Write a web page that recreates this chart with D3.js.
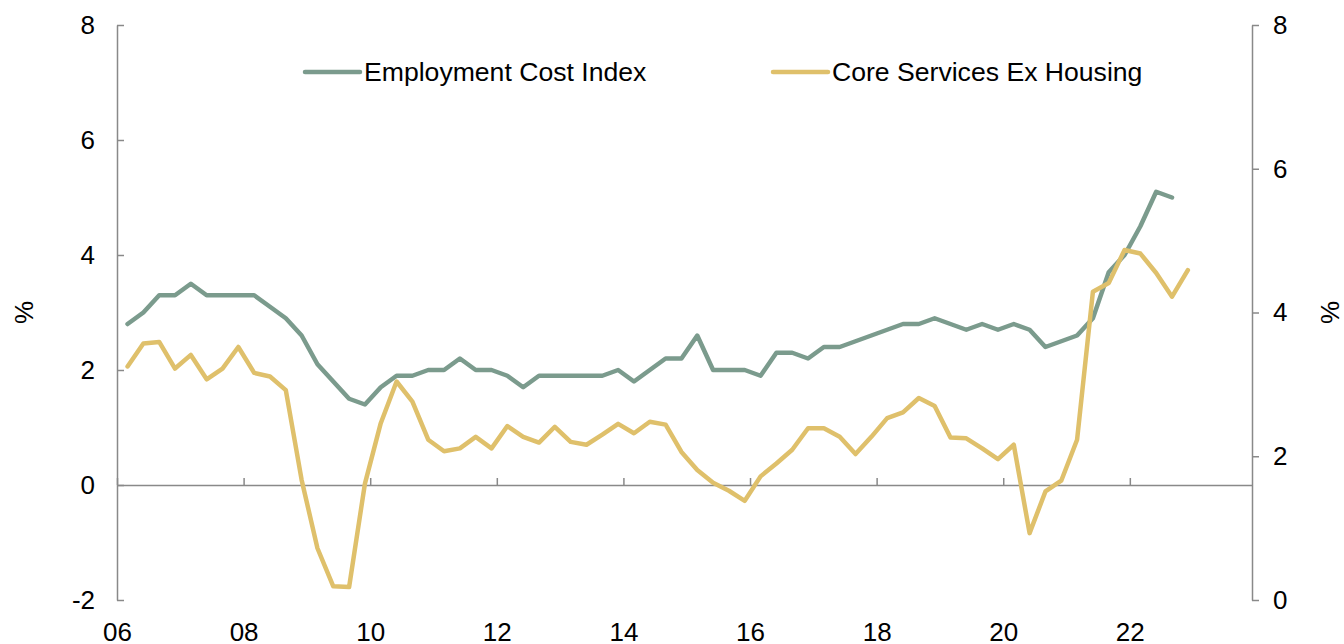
<!DOCTYPE html>
<html>
<head>
<meta charset="utf-8">
<script src="https://cdn.jsdelivr.net/npm/d3@7"></script>
<style>
  body { margin: 0; background: #fff; }
  svg { display: block; font-family: "Liberation Sans", Arial, sans-serif; }
  .axis path, .axis line { stroke: #898989; stroke-width: 1.5; }
  .axis text { fill: #000; font-size: 26px; font-family: "Liberation Sans", Arial, sans-serif; }
</style>
</head>
<body>
<div id="chart"></div>
<script>
// Quarterly data, 2006Q1 onwards (year-over-year %)
const seriesNames = ["Employment Cost Index", "Core Services Ex Housing"];
const startYear = 2006;

// Employment Cost Index, left axis (2006Q1 - 2022Q3)
const eci = [2.8, 3.0, 3.3, 3.3, 3.5, 3.3, 3.3, 3.3, 3.3, 3.1, 2.9, 2.6,
    2.1, 1.8, 1.5, 1.4, 1.7, 1.9, 1.9, 2.0, 2.0, 2.2, 2.0, 2.0,
    1.9, 1.7, 1.9, 1.9, 1.9, 1.9, 1.9, 2.0, 1.8, 2.0, 2.2, 2.2,
    2.6, 2.0, 2.0, 2.0, 1.9, 2.3, 2.3, 2.2, 2.4, 2.4, 2.5, 2.6,
    2.7, 2.8, 2.8, 2.9, 2.8, 2.7, 2.8, 2.7, 2.8, 2.7, 2.4, 2.5,
    2.6, 2.9, 3.7, 4.0, 4.5, 5.1, 5.0];

// Core services ex housing, right axis (2006Q1 - 2022Q4)
const coreSvc = [3.25, 3.57, 3.59, 3.22, 3.41, 3.07, 3.22, 3.52, 3.16, 3.11, 2.92, 1.67,
    0.72, 0.19, 0.18, 1.62, 2.46, 3.04, 2.76, 2.23, 2.07, 2.11, 2.27, 2.11,
    2.42, 2.27, 2.19, 2.41, 2.20, 2.16, 2.30, 2.45, 2.32, 2.48, 2.44, 2.06,
    1.81, 1.63, 1.52, 1.38, 1.72, 1.90, 2.09, 2.39, 2.39, 2.27, 2.03, 2.27,
    2.53, 2.61, 2.81, 2.70, 2.26, 2.25, 2.11, 1.96, 2.16, 0.93, 1.51, 1.66,
    2.23, 4.29, 4.41, 4.87, 4.82, 4.55, 4.22, 4.59];

const xTicks = [2006, 2008, 2010, 2012, 2014, 2016, 2018, 2020, 2022];
const leftTicks = [-2, 0, 2, 4, 6, 8];
const rightTicks = [0, 2, 4, 6, 8];

const colors = ["#7b9b8d", "#dfc06b"];

const width = 1344, height = 644;
const plot = {left: 117, right: 1252, top: 25, bottom: 600};

const svg = d3.select("#chart").append("svg")
    .attr("width", width)
    .attr("height", height);

// quarter i plotted at the last month of the quarter
const qDate = i => startYear + 2 / 12 + i / 4;

const x = d3.scaleLinear()
    .domain([2006, 2023.93])
    .range([plot.left, plot.right]);

const yL = d3.scaleLinear().domain([-2, 8]).range([plot.bottom, plot.top]);
const yR = d3.scaleLinear().domain([0, 8]).range([plot.bottom, plot.top]);

// Left axis (ticks point inward)
svg.append("g")
    .attr("class", "axis")
    .attr("transform", `translate(${plot.left},0)`)
    .call(d3.axisLeft(yL).tickValues(leftTicks).tickSize(-7).tickSizeOuter(0).tickPadding(22)
        .tickFormat(d => String(d)));

// Right axis
svg.append("g")
    .attr("class", "axis")
    .attr("transform", `translate(${plot.right},0)`)
    .call(d3.axisRight(yR).tickValues(rightTicks).tickSize(7).tickSizeOuter(0).tickPadding(14));

// x axis along zero line
svg.append("g")
    .attr("class", "axis")
    .attr("transform", `translate(0,${yL(0)})`)
    .call(d3.axisBottom(x).tickValues(xTicks).tickSize(-7).tickSizeOuter(0).tickPadding(138)
        .tickFormat(d => String(d).slice(2)));

// axis titles
svg.append("text")
    .attr("transform", `translate(33,${(plot.top + plot.bottom) / 2}) rotate(-90)`)
    .attr("text-anchor", "middle")
    .style("font-size", "26px")
    .text("%");
svg.append("text")
    .attr("transform", `translate(1339,${(plot.top + plot.bottom) / 2}) rotate(-90)`)
    .attr("text-anchor", "middle")
    .style("font-size", "26px")
    .text("%");

// Lines
const lineL = d3.line().x((d, i) => x(qDate(i))).y(d => yL(d));
const lineR = d3.line().x((d, i) => x(qDate(i))).y(d => yR(d));

svg.append("path")
    .datum(eci)
    .attr("fill", "none")
    .attr("stroke", colors[0])
    .attr("stroke-width", 4.5)
    .attr("stroke-linejoin", "round")
    .attr("stroke-linecap", "round")
    .attr("d", lineL);

svg.append("path")
    .datum(coreSvc)
    .attr("fill", "none")
    .attr("stroke", colors[1])
    .attr("stroke-width", 4.5)
    .attr("stroke-linejoin", "round")
    .attr("stroke-linecap", "round")
    .attr("d", lineR);

// Legend
const legendX = [305, 773];
const legend = svg.append("g")
    .selectAll("g")
    .data(seriesNames)
    .join("g")
    .attr("transform", (d, i) => `translate(${legendX[i]},72)`);
legend.append("line")
    .attr("x1", 0).attr("x2", 55)
    .attr("stroke", (d, i) => colors[i])
    .attr("stroke-width", 4.5)
    .attr("stroke-linecap", "round");
legend.append("text")
    .attr("x", 59)
    .attr("dy", "0.35em")
    .style("font-size", "26.6px")
    .text(d => d);
</script>
</body>
</html>
